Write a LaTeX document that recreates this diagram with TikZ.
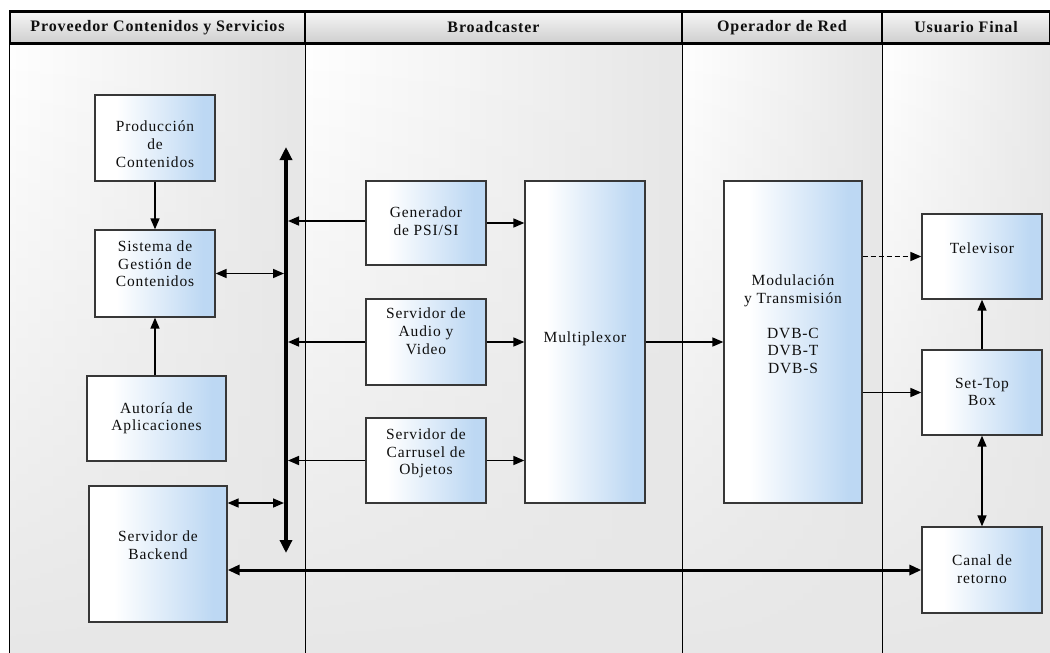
\documentclass[tikz,border=0pt]{standalone}
\usepackage{fontspec}
\setmainfont{Liberation Serif}[LetterSpace=5.5]
\usetikzlibrary{arrows.meta,fadings}

\definecolor{boxblue}{RGB}{189,216,243}
\definecolor{lanegray}{RGB}{231,231,231}
\definecolor{headtop}{RGB}{246,246,246}
\definecolor{headbot}{RGB}{206,206,206}
\definecolor{boxline}{RGB}{55,55,55}
\definecolor{ink}{RGB}{15,15,15}

% white on the left, light blue on the right (path spans 25bp..75bp)
\pgfdeclarehorizontalshading{boxfill}{100bp}{%
  color(0bp)=(white); color(34bp)=(white);
  color(70bp)=(boxblue); color(100bp)=(boxblue)}

% centred lines of box text, raised by #1 without changing the box size
\newcommand\liftlines[2]{\raisebox{#1}[\height][\depth]{%
  \begin{tabular}{@{}c@{}}#2\end{tabular}}}

\begin{document}
\begin{tikzpicture}[x=1pt,y=-1pt,
  box/.style={draw=boxline, line width=1.3pt, shade, shading=boxfill,
    text=ink, align=center, inner sep=0pt,
    font=\fontsize{15.5}{17.6}\selectfont},
  head/.style={draw=black, line width=2.6pt, top color=headtop,
    bottom color=headbot, text=ink, inner sep=0pt, minimum height=32pt,
    font=\fontsize{16}{18}\selectfont\bfseries},
  lane/.style={line width=1pt, draw=black},
  arr/.style={-{Triangle[length=11pt,width=9pt]}, line width=1.6pt, draw=black},
  darr/.style={{Triangle[length=11pt,width=9pt]}-{Triangle[length=11pt,width=9pt]},
    line width=1.6pt, draw=black},
  busline/.style={{Triangle[length=13pt,width=12pt]}-{Triangle[length=13pt,width=12pt]},
    line width=4pt, draw=black},
  thick2/.style={{Triangle[length=12pt,width=10pt]}-{Triangle[length=12pt,width=10pt]},
    line width=3pt, draw=black},
]
\useasboundingbox (0,0) rectangle (1050,653);

% swimlane backgrounds
\foreach \xa/\xb in {9/305, 305/682, 682/882, 882/1060}{
  \fill[left color=white, right color=lanegray] (\xa,44) rectangle (\xb,660);
  \fill[lanegray, path fading=north] (\xa,44) rectangle (\xb,660);
}
\draw[lane] (9,44) -- (9,660);
\draw[lane] (305,44) -- (305,660);
\draw[lane] (682,44) -- (682,660);
\draw[lane] (882,44) -- (882,660);

% lane headers
\node[head, minimum width=295pt] (h1) at (157.5,27.5) {Proveedor Contenidos y Servicios};
\node[head, minimum width=377pt] (h2) at (493.5,27.5) {Broadcaster};
\node[head, minimum width=200pt] (h3) at (782,27.5) {Operador de Red};
\node[head, minimum width=168pt] (h4) at (966,27.5) {Usuario Final};

% content provider
\node[box, minimum width=120pt, minimum height=86pt] (prod) at (155,138)
  {\liftlines{-8pt}{Producción\\de\\Contenidos}};
\node[box, minimum width=120pt, minimum height=87pt] (sist) at (155,273.5)
  {\liftlines{8pt}{Sistema de\\Gestión de\\Contenidos}};
\node[box, minimum width=139pt, minimum height=85pt] (aut) at (156.5,418.5)
  {\liftlines{0pt}{Autoría de\\Aplicaciones}};
\node[box, minimum width=138pt, minimum height=136pt] (back) at (158,554)
  {\liftlines{7pt}{Servidor de\\Backend}};

% broadcaster
\node[box, minimum width=120pt, minimum height=84pt] (gen) at (426,223)
  {\liftlines{0pt}{Generador\\de PSI/SI}};
\node[box, minimum width=120pt, minimum height=86pt] (audio) at (426,342)
  {\liftlines{9pt}{Servidor de\\Audio y\\Video}};
\node[box, minimum width=120pt, minimum height=85pt] (carr) at (426,460.5)
  {\liftlines{7pt}{Servidor de\\Carrusel de\\Objetos}};
\node[box, minimum width=120pt, minimum height=322pt] (mux) at (585,342)
  {\liftlines{3pt}{Multiplexor}};

% network operator
\node[box, minimum width=138pt, minimum height=322pt] (mod) at (793,342)
  {\liftlines{16pt}{Modulación\\y Transmisión\\\strut\\DVB-C\\DVB-T\\DVB-S}};

% end user
\node[box, minimum width=120pt, minimum height=85pt] (tv) at (982,256.5)
  {\liftlines{7pt}{Televisor}};
\node[box, minimum width=120pt, minimum height=85pt] (stb) at (982,392.5)
  {\liftlines{-1pt}{Set-Top\\Box}};
\node[box, minimum width=120pt, minimum height=86pt] (canal) at (982,570)
  {\liftlines{-1pt}{Canal de\\retorno}};

% data bus
\coordinate (busT) at (286,147);
\coordinate (busB) at (286,553);
\draw[busline] (busB) -- (busT);

% connectors
\draw[arr] (prod.south) -- (sist.north);
\draw[arr] (aut.north -| sist.south) -- (sist.south);
\draw[darr, shorten >=2pt] (sist.east) -- (sist.east -| busT);
\draw[darr, shorten >=2pt] ([yshift=51pt]back.east) -- ([yshift=51pt]back.east -| busT);
\draw[arr, shorten >=2pt] ([yshift=2pt]gen.west) -- ([yshift=2pt]gen.west -| busT);
\draw[arr, shorten >=2pt] (audio.west) -- (audio.west -| busT);
\draw[arr, shorten >=2pt] (carr.west) -- (carr.west -| busT);
\draw[arr] (gen.east) -- (gen.east -| mux.west);
\draw[arr] (audio.east) -- (audio.east -| mux.west);
\draw[arr] (carr.east) -- (carr.east -| mux.west);
\draw[arr] (mux.east) -- (mod.west);
\draw[arr, dash pattern=on 5pt off 3pt] (tv.west -| mod.east) -- (tv.west);
\draw[arr] (stb.west -| mod.east) -- (stb.west);
\draw[arr] (stb) -- (tv);
\draw[darr] (stb) -- (canal);
\draw[thick2] (canal.west -| back.east) -- (canal.west);
\end{tikzpicture}
\end{document}
